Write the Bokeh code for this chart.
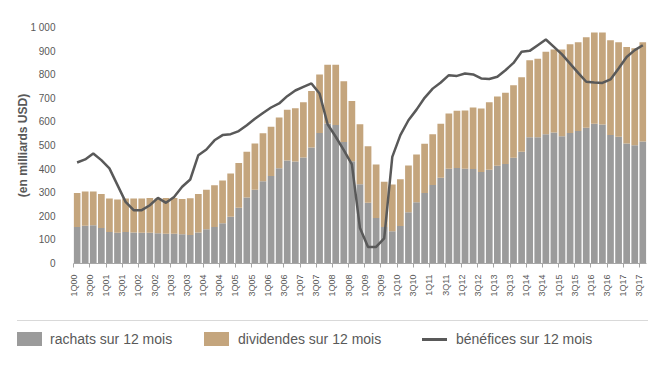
from bokeh.plotting import figure
from bokeh.models import ColumnDataSource, FixedTicker, Range1d, Div
from bokeh.layouts import column
from bokeh.embed import file_html
from bokeh.resources import INLINE
import math

quarters = [
    "1Q00", "2Q00", "3Q00", "4Q00", "1Q01", "2Q01", "3Q01", "4Q01",
    "1Q02", "2Q02", "3Q02", "4Q02", "1Q03", "2Q03", "3Q03", "4Q03",
    "1Q04", "2Q04", "3Q04", "4Q04", "1Q05", "2Q05", "3Q05", "4Q05",
    "1Q06", "2Q06", "3Q06", "4Q06", "1Q07", "2Q07", "3Q07", "4Q07",
    "1Q08", "2Q08", "3Q08", "4Q08", "1Q09", "2Q09", "3Q09", "4Q09",
    "1Q10", "2Q10", "3Q10", "4Q10", "1Q11", "2Q11", "3Q11", "4Q11",
    "1Q12", "2Q12", "3Q12", "4Q12", "1Q13", "2Q13", "3Q13", "4Q13",
    "1Q14", "2Q14", "3Q14", "4Q14", "1Q15", "2Q15", "3Q15", "4Q15",
    "1Q16", "2Q16", "3Q16", "4Q16", "1Q17", "2Q17", "3Q17",
]

rachats = [
    155, 160, 162, 150, 134, 130, 134, 131, 130, 130, 128, 126, 126, 124, 121, 131,
    145, 155, 171, 198, 236, 280, 312, 349, 371, 404, 436, 432, 449, 491, 553, 593,
    587, 515, 433, 336, 257, 193, 155, 137, 159, 217, 260, 299, 333, 363, 402, 405,
    401, 400, 388, 397, 414, 422, 448, 474, 535, 535, 548, 555, 539, 553, 561, 575,
    592, 589, 544, 537, 508, 501, 517,
]

dividendes = [
    144, 145, 143, 144, 141, 141, 141, 144, 145, 148, 147, 152, 152, 149, 156, 163,
    168, 177, 181, 183, 190, 193, 196, 203, 208, 215, 216, 226, 234, 240, 248, 249,
    255, 257, 256, 254, 240, 226, 191, 198, 198, 198, 202, 208, 215, 229, 234, 242,
    247, 261, 269, 286, 294, 301, 307, 315, 326, 333, 349, 352, 368, 376, 377, 384,
    387, 390, 402, 401, 409, 411, 421,
]

benefices = [
    428, 441, 466, 438, 403, 332, 261, 226, 226, 247, 278, 257, 282, 325, 356, 459,
    483, 522, 544, 548, 561, 586, 613, 638, 661, 678, 709, 733, 748, 763, 720, 590,
    537, 480, 420, 150, 70, 70, 106, 452, 544, 607, 652, 702, 741, 767, 798, 795,
    805, 801, 784, 782, 791, 819, 850, 897, 901, 925, 949, 918, 886, 847, 808, 770,
    767, 765, 780, 826, 875, 904, 925,
]

series_labels = ["rachats sur 12 mois", "dividendes sur 12 mois", "bénéfices sur 12 mois"]

y_ticks = [0, 100, 200, 300, 400, 500, 600, 700, 800, 900, 1000]
y_tick_labels = ["0", "100", "200", "300", "400", "500", "600", "700", "800", "900", "1 000"]

GRAY = "#9b9b9b"
TAN = "#c4a57d"
LINE = "#595959"
TEXT = "#595959"
FONT = "Liberation Sans"

BAR_W = 0.83
n = len(quarters)
xs = [i + BAR_W / 2 for i in range(n)]

src = ColumnDataSource(dict(x=xs, q=quarters, rachats=rachats,
                            dividendes=dividendes, benefices=benefices))

p = figure(width=660, height=312,
           x_range=Range1d(-0.03, n - 1 + BAR_W + 0.04),
           y_range=Range1d(0, 1000),
           output_backend="svg", toolbar_location=None,
           min_border_left=73, min_border_right=14,
           min_border_top=27, min_border_bottom=49)

p.vbar_stack(["rachats", "dividendes"], x="x", width=BAR_W, source=src,
             fill_color=[GRAY, TAN], line_color=None)
p.line(x="x", y="benefices", source=src, line_color=LINE, line_width=2.5)

p.grid.visible = False
p.outline_line_color = None

# x axis
xt = list(range(0, n, 2))
p.xaxis.ticker = FixedTicker(ticks=xt)
p.xaxis.major_label_overrides = {i: quarters[i] for i in xt}
p.xaxis.major_label_orientation = math.pi / 2
p.xaxis.major_label_text_font = FONT
p.xaxis.major_label_text_font_size = "9px"
p.xaxis.major_label_text_color = TEXT
p.xaxis.major_label_standoff = 7
p.xaxis.axis_line_color = "#a6a6a6"
p.xaxis.major_tick_line_color = "#a6a6a6"
p.xaxis.major_tick_out = 4
p.xaxis.major_tick_in = 0
p.xaxis.minor_tick_line_color = None

# y axis
p.yaxis.ticker = FixedTicker(ticks=y_ticks)
p.yaxis.major_label_overrides = {t: l for t, l in zip(y_ticks, y_tick_labels)}
p.yaxis.major_label_text_font = FONT
p.yaxis.major_label_text_font_size = "10px"
p.yaxis.major_label_text_color = TEXT
p.yaxis.major_label_standoff = 12
p.yaxis.axis_line_color = None
p.yaxis.major_tick_line_color = None
p.yaxis.minor_tick_line_color = None
p.yaxis.axis_label = "(en milliards USD)"
p.yaxis.axis_label_text_font = FONT
p.yaxis.axis_label_text_font_style = "bold"
p.yaxis.axis_label_text_font_size = "12px"
p.yaxis.axis_label_text_color = TEXT
p.yaxis.axis_label_standoff = -3

# separator + legend (HTML)
txt = (f"font-family:{FONT},Arial,sans-serif;font-size:14px;color:{TEXT};"
       "line-height:16px;position:absolute;top:19px;white-space:nowrap;")
sw = "position:absolute;width:25px;height:14px;top:20px;"
legend_html = (
    '<div style="position:relative;width:660px;height:54px;">'
    '<div style="position:absolute;left:17px;top:8px;width:631px;height:1px;background:#d9d9d9;"></div>'
    f'<div style="{sw}left:17px;background:{GRAY};"></div>'
    f'<div style="{txt}left:50px;">{series_labels[0]}</div>'
    f'<div style="{sw}left:204px;background:{TAN};"></div>'
    f'<div style="{txt}left:238px;">{series_labels[1]}</div>'
    f'<div style="position:absolute;left:422px;top:26px;width:25px;height:2.5px;background:{LINE};"></div>'
    f'<div style="{txt}left:456px;">{series_labels[2]}</div>'
    '</div>'
)
leg = Div(text=legend_html, width=660, height=54, margin=0)

layout = column(p, leg, spacing=0)

open("out.html", "w").write(file_html(layout, INLINE))
